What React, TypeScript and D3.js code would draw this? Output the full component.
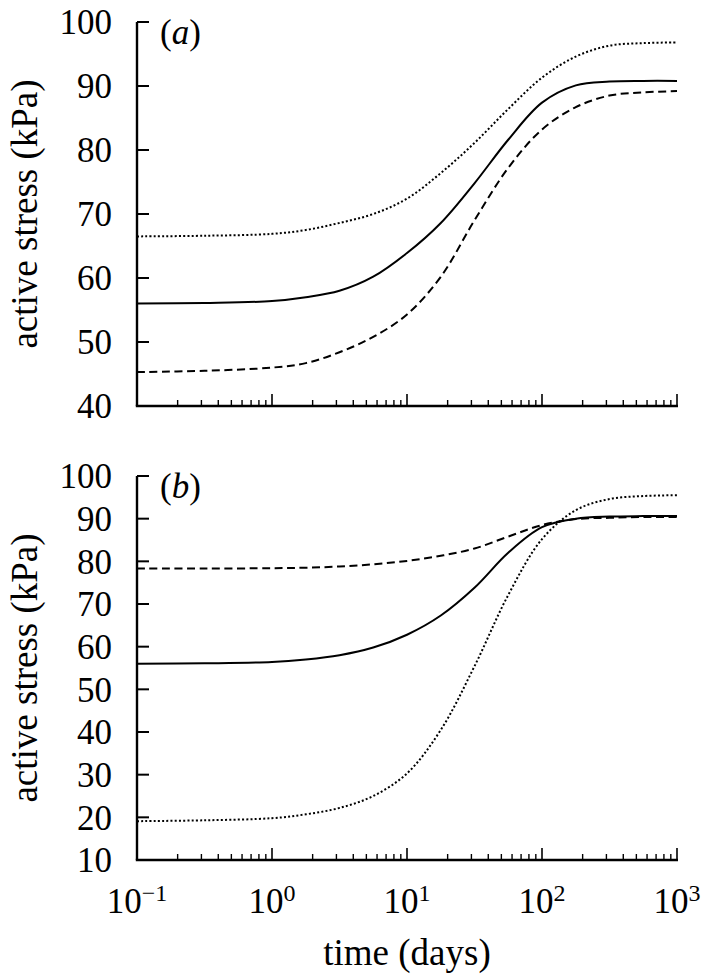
import React from 'react';
import * as d3 from 'd3';

// time (days), log-spaced sample points
const times = [0.1, 0.316, 1, 1.78, 3.16, 5.62, 10, 17.8, 31.6, 56.2, 100, 178, 316, 562, 1000];

// panel (a)
const solidA = [56.0, 56.1, 56.4, 57.0, 58.0, 60.2, 63.9, 68.6, 74.8, 81.6, 87.4, 90.1, 90.7, 90.8, 90.8];
const dottedA = [66.5, 66.6, 66.9, 67.5, 68.6, 70.0, 72.4, 76.4, 81.1, 86.4, 91.3, 94.6, 96.3, 96.7, 96.8];
const dashedA = [45.3, 45.5, 46.0, 46.7, 48.4, 50.8, 54.3, 60.2, 69.0, 77.2, 83.2, 86.7, 88.5, 89.0, 89.2];

// panel (b)
const solidB = [56.0, 56.1, 56.4, 57.0, 58.0, 59.8, 62.8, 67.3, 73.8, 82.0, 88.0, 90.0, 90.5, 90.6, 90.6];
const dashedB = [78.3, 78.3, 78.4, 78.5, 78.8, 79.3, 80.1, 81.3, 83.0, 85.8, 88.5, 89.9, 90.2, 90.4, 90.4];
const dottedB = [19.1, 19.3, 19.8, 20.7, 22.2, 25.0, 30.3, 40.5, 55.4, 72.1, 85.2, 92.0, 94.6, 95.3, 95.5];

const xTickExps = [-1, 0, 1, 2, 3];
const yTicksA = [40, 50, 60, 70, 80, 90, 100];
const yTicksB = [10, 20, 30, 40, 50, 60, 70, 80, 90, 100];
const panelLabels = ['a', 'b'];
const yTitle = 'active stress (kPa)';
const xTitle = 'time (days)';

const W = 703;
const H = 975;
const FONT = '"Liberation Serif"';
const LEFT = 137;
const RIGHT = 677;

const dashes: Record<string, string | undefined> = {
  solid: undefined,
  dashed: '8,4.5',
  dotted: '2,2.2',
};

type Series = { values: number[]; style: string };

const txt = (size: number): React.CSSProperties => ({ fontFamily: FONT, fontSize: size });

function Panel({ top, bottom, domain, ticks, label, series, showXLabels }: {
  top: number; bottom: number; domain: [number, number]; ticks: number[]; label: string; series: Series[]; showXLabels: boolean;
}) {
  const x = d3.scaleLog().domain([0.1, 1000]).range([LEFT, RIGHT]);
  const y = d3.scaleLinear().domain(domain).range([bottom, top]);
  const line = d3.line<number>()
    .x((_, i) => x(times[i]))
    .y((d) => y(d))
    .curve(d3.curveCatmullRom.alpha(0.5));
  const minor: number[] = [];
  for (let e = -1; e < 3; e++) for (let k = 2; k <= 9; k++) minor.push(k * Math.pow(10, e));
  const mid = (top + bottom) / 2;
  return (
    <g>
      {series.map((s, i) => (
        <path key={i} d={line(s.values) || ''} fill="none" stroke="#000" strokeWidth={2}
          strokeDasharray={dashes[s.style]} />
      ))}
      <line x1={LEFT} x2={LEFT} y1={top} y2={bottom} stroke="#000" strokeWidth={2.4} />
      <line x1={LEFT - 1.2} x2={RIGHT + 1} y1={bottom} y2={bottom} stroke="#000" strokeWidth={2.4} />
      {ticks.map((t) => (
        <g key={t}>
          <line x1={LEFT} x2={LEFT + 12} y1={y(t)} y2={y(t)} stroke="#000" strokeWidth={2} />
          <text x={LEFT - 25} y={y(t)} dy="0.35em" textAnchor="end" style={txt(35)}>{t}</text>
        </g>
      ))}
      {xTickExps.map((e) => (
        <line key={e} x1={x(Math.pow(10, e))} x2={x(Math.pow(10, e))} y1={bottom} y2={bottom - 12} stroke="#000" strokeWidth={1.6} />
      ))}
      {minor.map((m) => (
        <line key={m} x1={x(m)} x2={x(m)} y1={bottom} y2={bottom - 6} stroke="#000" strokeWidth={1.4} />
      ))}
      {showXLabels && xTickExps.map((e) => (
        <text key={e} x={x(Math.pow(10, e))} y={913} textAnchor="middle" style={txt(35)}>
          10<tspan style={{ fontSize: 24 }} dy={-12}>{e < 0 ? '\u2212' + Math.abs(e) : String(e)}</tspan>
        </text>
      ))}
      <text x={160} y={top + 22} style={txt(35)}>
        (<tspan style={{ fontStyle: 'italic' }}>{label}</tspan>)
      </text>
      <text transform={`translate(37,${mid}) rotate(-90)`} textAnchor="middle" style={txt(37)}>{yTitle}</text>
    </g>
  );
}

export default function App() {
  return (
    <svg width={W} height={H} style={{ position: 'absolute', left: 0, top: 0, background: '#fff' }}>
      <rect width={W} height={H} fill="#fff" />
      <Panel top={22} bottom={406} domain={[40, 100]} ticks={yTicksA} label={panelLabels[0]} showXLabels={false}
        series={[{ values: dottedA, style: 'dotted' }, { values: solidA, style: 'solid' }, { values: dashedA, style: 'dashed' }]} />
      <Panel top={476} bottom={860} domain={[10, 100]} ticks={yTicksB} label={panelLabels[1]} showXLabels={true}
        series={[{ values: dottedB, style: 'dotted' }, { values: solidB, style: 'solid' }, { values: dashedB, style: 'dashed' }]} />
      <text x={(LEFT + RIGHT) / 2} y={965} textAnchor="middle" style={txt(37)}>{xTitle}</text>
    </svg>
  );
}
